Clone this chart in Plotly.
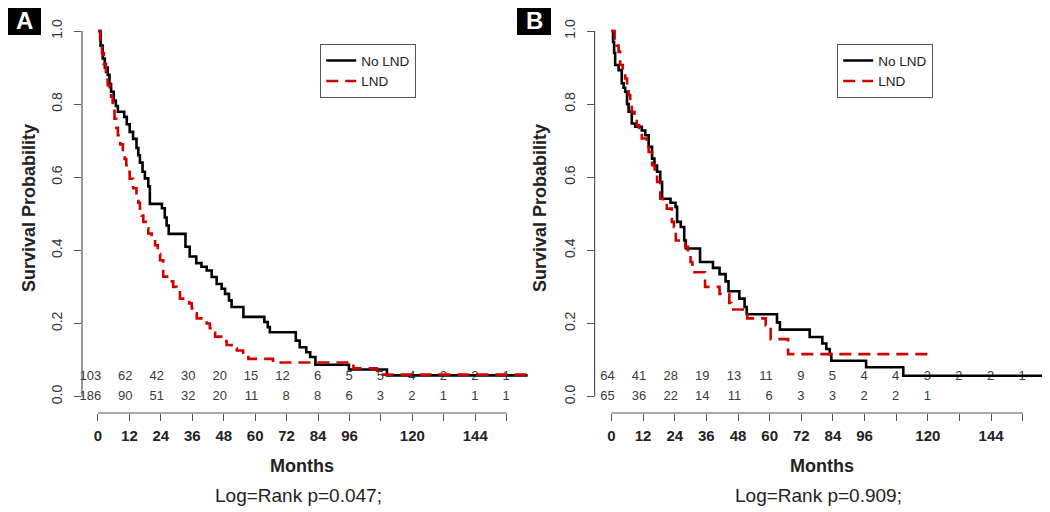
import plotly.graph_objects as go

# Kaplan-Meier curves (months, survival probability)
a_nolnd_t = [0, 1.0, 1.8, 2.6, 3.7, 4.4, 5.0, 6.0, 6.8, 7.6, 10.0, 11.0, 12.1, 13.4, 14.7, 15.4,
             16.0, 17.0, 17.9, 19.2, 19.8, 24.4, 25.5, 26.2, 27.0, 33.4, 35.0, 37.5, 39.5, 41.5,
             43.4, 45.3, 47.2, 48.5, 50.0, 51.0, 55.5, 63.5, 64.8, 65.6, 75.5, 77.0, 79.5, 81.0,
             83.0, 95.8, 110.3, 164]
a_nolnd_s = [1.0, 0.96, 0.925, 0.90, 0.88, 0.855, 0.834, 0.81, 0.795, 0.779, 0.765, 0.745, 0.724,
             0.705, 0.68, 0.66, 0.64, 0.615, 0.597, 0.575, 0.527, 0.515, 0.49, 0.468, 0.445, 0.41,
             0.383, 0.365, 0.355, 0.345, 0.327, 0.308, 0.295, 0.281, 0.263, 0.245, 0.218, 0.204,
             0.19, 0.176, 0.153, 0.135, 0.121, 0.108, 0.087, 0.074, 0.058, 0.058]

a_lnd_t = [0, 0.8, 1.5, 2.2, 3.0, 3.7, 4.4, 5.0, 5.6, 6.3, 7.0, 7.6, 8.5, 9.5, 10.2, 10.8, 11.5,
           12.1, 13.4, 14.7, 15.4, 16.0, 16.7, 17.3, 18.2, 19.2, 20.5, 21.8, 22.8, 23.7, 24.9,
           27.5, 28.7, 30.0, 31.3, 34.8, 35.8, 36.8, 37.7, 41.5, 42.7, 43.7, 44.7, 47.5, 49.1,
           51.0, 53.0, 55.4, 57.4, 66.8, 97.5, 106.5, 164]
a_lnd_s = [1.0, 0.97, 0.94, 0.91, 0.88, 0.852, 0.835, 0.82, 0.79, 0.76, 0.735, 0.715, 0.69, 0.669,
           0.65, 0.633, 0.615, 0.596, 0.57, 0.55, 0.53, 0.514, 0.495, 0.478, 0.46, 0.446, 0.43,
           0.414, 0.39, 0.373, 0.328, 0.315, 0.30, 0.285, 0.268, 0.255, 0.241, 0.228, 0.214, 0.20,
           0.187, 0.175, 0.164, 0.152, 0.141, 0.132, 0.126, 0.114, 0.103, 0.093, 0.077, 0.06, 0.06]

b_nolnd_t = [0, 0.6, 1.0, 1.4, 2.7, 3.9, 4.6, 5.2, 5.9, 6.5, 7.7, 9.0, 11.5, 12.8, 14.1, 15.4,
             16.3, 17.3, 18.5, 19.2, 22.4, 24.3, 24.9, 26.3, 27.6, 28.2, 33.6, 38.5, 41.0, 43.3,
             44.4, 48.5, 50.5, 51.3, 62.8, 63.9, 75.2, 80.0, 81.5, 82.8, 83.4, 96.6, 110.7, 164]
b_nolnd_s = [1.0, 0.97, 0.94, 0.907, 0.893, 0.857, 0.845, 0.834, 0.80, 0.779, 0.747, 0.738, 0.728,
             0.715, 0.683, 0.651, 0.632, 0.615, 0.587, 0.541, 0.53, 0.519, 0.478, 0.464, 0.427,
             0.405, 0.368, 0.352, 0.335, 0.315, 0.288, 0.268, 0.245, 0.225, 0.203, 0.183, 0.163,
             0.145, 0.13, 0.116, 0.098, 0.08, 0.057, 0.057]

b_lnd_t = [0, 1.2, 2.0, 2.7, 3.3, 4.3, 5.2, 5.9, 6.5, 7.1, 7.7, 8.7, 9.6, 10.5, 11.5, 13.4, 14.1,
           15.4, 16.4, 17.3, 18.5, 19.5, 21.0, 22.9, 23.7, 24.4, 28.0, 29.0, 30.0, 30.7, 31.5,
           35.5, 41.0, 44.7, 45.5, 49.8, 51.5, 58.5, 60.4, 67.0, 122.2]
b_lnd_s = [1.0, 0.975, 0.96, 0.943, 0.907, 0.89, 0.87, 0.85, 0.825, 0.80, 0.779, 0.76, 0.742,
           0.725, 0.706, 0.697, 0.669, 0.633, 0.61, 0.587, 0.541, 0.53, 0.514, 0.478, 0.464,
           0.427, 0.41, 0.389, 0.368, 0.35, 0.34, 0.30, 0.281, 0.256, 0.238, 0.226, 0.214, 0.195,
           0.157, 0.116, 0.116]

# numbers at risk
risk_times = [0, 12, 24, 36, 48, 60, 72, 84, 96, 108, 120, 132, 144, 156]
a_risk_nolnd = [103, 62, 42, 30, 20, 15, 12, 6, 5, 5, 4, 2, 2, 1]
a_risk_lnd = [186, 90, 51, 32, 20, 11, 8, 8, 6, 3, 2, 1, 1, 1]
b_risk_nolnd = [64, 41, 28, 19, 13, 11, 9, 5, 4, 4, 3, 2, 2, 1]
b_risk_lnd = [65, 36, 22, 14, 11, 6, 3, 3, 2, 2, 1]

x_ticks = [0, 12, 24, 36, 48, 60, 72, 84, 96, 108, 120, 132, 144, 156]
x_ticktext = ["0", "12", "24", "36", "48", "60", "72", "84", "96", "", "120", "", "144", ""]
y_ticks = [0, 0.2, 0.4, 0.6, 0.8, 1.0]
y_ticktext = ["0.0", "0.2", "0.4", "0.6", "0.8", "1.0"]
p_values = ["Log=Rank p=0.047;", "Log=Rank p=0.909;"]

W, H = 1050, 512
OFF = 8  # the page body adds an 8px margin around the figure
FONT = "Arial, Liberation Sans, sans-serif"
RED = "#d00000"


def px(x):
    return (x - OFF) / W


def py(y):
    return 1 - (y - OFF) / H


fig = go.Figure()

panels = [
    dict(xa="x", ya="y", leg="legend", t1=a_nolnd_t, s1=a_nolnd_s, t2=a_lnd_t, s2=a_lnd_s,
         r1=a_risk_nolnd, r2=a_risk_lnd),
    dict(xa="x2", ya="y2", leg="legend2", t1=b_nolnd_t, s1=b_nolnd_s, t2=b_lnd_t, s2=b_lnd_s,
         r1=b_risk_nolnd, r2=b_risk_lnd),
]

for p in panels:
    # numbers at risk, right aligned on the month ticks
    for row, yv in [(p["r1"], 0.053), (p["r2"], 0.0)]:
        fig.add_trace(go.Scatter(x=[t + 1.2 for t in risk_times[:len(row)]], y=[yv] * len(row),
                                 text=[str(v) for v in row], mode="text", cliponaxis=False,
                                 textposition="middle left", showlegend=False, hoverinfo="skip",
                                 textfont=dict(family=FONT, size=13, color="#3a3a3a"),
                                 xaxis=p["xa"], yaxis=p["ya"]))
    fig.add_trace(go.Scatter(x=p["t1"], y=p["s1"], mode="lines", name="No LND",
                             line=dict(color="black", width=2.6, shape="hv"),
                             legend=p["leg"], xaxis=p["xa"], yaxis=p["ya"]))
    fig.add_trace(go.Scatter(x=p["t2"], y=p["s2"], mode="lines", name="LND",
                             line=dict(color=RED, width=2.6, shape="hv", dash="12px,7px"),
                             legend=p["leg"], xaxis=p["xa"], yaxis=p["ya"]))

y_dom = [py(413), py(16.4)]
xa_common = dict(tickvals=x_ticks, ticktext=x_ticktext, ticks="outside", ticklen=7,
                 tickcolor="#555", showgrid=False, zeroline=False, showline=False,
                 automargin=False,
                 tickfont=dict(family=FONT, size=15, color="#222", weight="bold"),
                 ticklabelstandoff=2)
ya_common = dict(tickvals=y_ticks, ticktext=y_ticktext, ticks="outside", ticklen=7,
                 tickcolor="#555", showgrid=False, zeroline=False, showline=False,
                 automargin=False, tickangle=-90, range=[-0.045, 1.04], domain=y_dom,
                 tickfont=dict(family=FONT, size=14, color="#333"), ticklabelstandoff=6)

leg_common = dict(xanchor="left", yanchor="top", bgcolor="white", bordercolor="#555",
                  borderwidth=1.2, font=dict(family=FONT, size=13.5, color="#222"),
                  itemwidth=30, tracegroupgap=0)

fig.update_layout(
    width=W, height=H, margin=dict(l=0, r=0, t=0, b=0),
    paper_bgcolor="white", plot_bgcolor="white",
    xaxis=dict(domain=[px(82), px(533.4)], range=[-6.1, 166.2], anchor="y", **xa_common),
    yaxis=dict(anchor="x", **ya_common),
    xaxis2=dict(domain=[px(594.6), px(1048)], range=[-6.4, 165.6], anchor="y2", **xa_common),
    yaxis2=dict(anchor="x2", **ya_common),
    legend=dict(x=px(320), y=py(44), **leg_common),
    legend2=dict(x=px(837), y=py(44), **leg_common),
)

# R style axis lines (only from first to last tick)
for xa, ya in [("x", "y"), ("x2", "y2")]:
    fig.add_shape(type="line", xref=xa + " domain", yref=ya, x0=0, x1=0, y0=0, y1=1,
                  line=dict(color="#555", width=1.2))
    fig.add_shape(type="line", xref=xa, yref=ya + " domain", x0=0, x1=156, y0=0, y1=0,
                  line=dict(color="#555", width=1.2))

# axis titles and p-values
for cx, mx, label in [(29, 302, p_values[0]), (540, 822, p_values[1])]:
    fig.add_annotation(x=px(cx), y=py(208), xref="paper", yref="paper",
                       text="<b>Survival Probability</b>", textangle=-90, showarrow=False,
                       xanchor="center", yanchor="middle",
                       font=dict(family=FONT, size=18, color="#222"))
    fig.add_annotation(x=px(mx), y=py(466), xref="paper", yref="paper", text="<b>Months</b>",
                       showarrow=False, xanchor="center", yanchor="middle",
                       font=dict(family=FONT, size=18, color="#222"))
    fig.add_annotation(x=px(mx - 4), y=py(495), xref="paper", yref="paper", text=label,
                       showarrow=False, xanchor="center", yanchor="middle",
                       font=dict(family=FONT, size=19, color="#222"))

# panel letters
for x0, letter in [(7, "A"), (517, "B")]:
    fig.add_shape(type="rect", xref="paper", yref="paper", x0=px(x0), x1=px(x0 + 34),
                  y0=1, y1=py(35), fillcolor="black", line=dict(width=0))
    fig.add_annotation(x=px(x0 + 17), y=py(20), xref="paper", yref="paper",
                       text="<b>" + letter + "</b>", showarrow=False,
                       xanchor="center", yanchor="middle",
                       font=dict(family=FONT, size=24, color="white"))

fig.write_html("out.html")
